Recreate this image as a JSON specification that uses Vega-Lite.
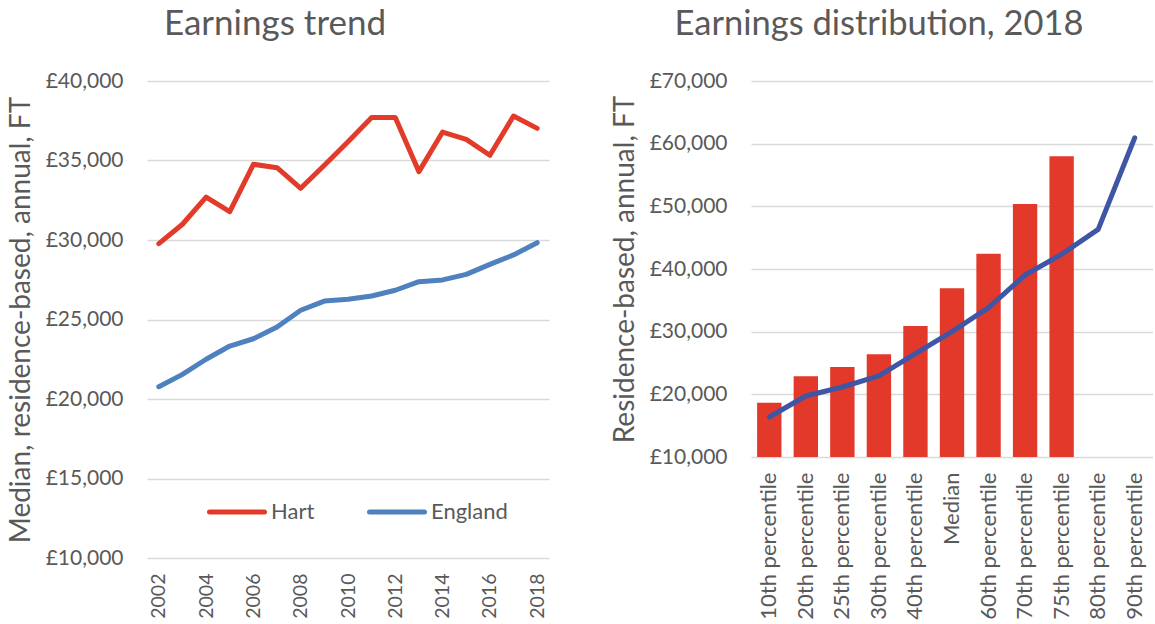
{
  "$schema": "https://vega.github.io/schema/vega-lite/v6.json",
  "padding": {"left": 7, "top": 6, "right": 0, "bottom": 0},
  "background": "white",
  "spacing": 62,
  "datasets": {
    "trend": [
      {"year": 2002, "series": "Hart", "value": 29770},
      {"year": 2003, "series": "Hart", "value": 30990},
      {"year": 2004, "series": "Hart", "value": 32700},
      {"year": 2005, "series": "Hart", "value": 31780},
      {"year": 2006, "series": "Hart", "value": 34760},
      {"year": 2007, "series": "Hart", "value": 34550},
      {"year": 2008, "series": "Hart", "value": 33250},
      {"year": 2009, "series": "Hart", "value": 34700},
      {"year": 2010, "series": "Hart", "value": 36180},
      {"year": 2011, "series": "Hart", "value": 37700},
      {"year": 2012, "series": "Hart", "value": 37700},
      {"year": 2013, "series": "Hart", "value": 34300},
      {"year": 2014, "series": "Hart", "value": 36790},
      {"year": 2015, "series": "Hart", "value": 36330},
      {"year": 2016, "series": "Hart", "value": 35330},
      {"year": 2017, "series": "Hart", "value": 37800},
      {"year": 2018, "series": "Hart", "value": 37020},
      {"year": 2002, "series": "England", "value": 20770},
      {"year": 2003, "series": "England", "value": 21550},
      {"year": 2004, "series": "England", "value": 22500},
      {"year": 2005, "series": "England", "value": 23330},
      {"year": 2006, "series": "England", "value": 23790},
      {"year": 2007, "series": "England", "value": 24530},
      {"year": 2008, "series": "England", "value": 25580},
      {"year": 2009, "series": "England", "value": 26160},
      {"year": 2010, "series": "England", "value": 26270},
      {"year": 2011, "series": "England", "value": 26480},
      {"year": 2012, "series": "England", "value": 26840},
      {"year": 2013, "series": "England", "value": 27380},
      {"year": 2014, "series": "England", "value": 27490},
      {"year": 2015, "series": "England", "value": 27840},
      {"year": 2016, "series": "England", "value": 28470},
      {"year": 2017, "series": "England", "value": 29060},
      {"year": 2018, "series": "England", "value": 29830}
    ],
    "dist": [
      {"percentile": "10th percentile", "Hart": 18660, "England": 16380},
      {"percentile": "20th percentile", "Hart": 22880, "England": 19730},
      {"percentile": "25th percentile", "Hart": 24360, "England": 21170},
      {"percentile": "30th percentile", "Hart": 26390, "England": 22930},
      {"percentile": "40th percentile", "Hart": 30900, "England": 26490},
      {"percentile": "Median", "Hart": 36920, "England": 30000},
      {"percentile": "60th percentile", "Hart": 42440, "England": 33830},
      {"percentile": "70th percentile", "Hart": 50370, "England": 39040},
      {"percentile": "75th percentile", "Hart": 57980, "England": 42340},
      {"percentile": "80th percentile", "Hart": null, "England": 46330},
      {"percentile": "90th percentile", "Hart": null, "England": 60950}
    ]
  },
  "hconcat": [
    {
      "width": 402,
      "height": 477,
      "title": {"text": "Earnings trend", "dx": -73, "fontSize": 35},
      "data": {"name": "trend"},
      "mark": {"type": "line", "strokeWidth": 5, "strokeCap": "round", "strokeJoin": "round"},
      "encoding": {
        "x": {
          "field": "year", "type": "ordinal",
          "scale": {"type": "point", "padding": 0.5},
          "axis": {"values": [2002, 2004, 2006, 2008, 2010, 2012, 2014, 2016, 2018], "labelAngle": -90, "title": null, "labelFontSize": 19.5}
        },
        "y": {
          "field": "value", "type": "quantitative",
          "scale": {"domain": [10000, 40000]},
          "axis": {"values": [10000, 15000, 20000, 25000, 30000, 35000, 40000], "title": "Median, residence-based, annual, FT", "labelExpr": "'£' + format(datum.value, ',')"}
        },
        "color": {
          "field": "series", "type": "nominal",
          "scale": {"domain": ["Hart", "England"], "range": ["#E33B2A", "#4E81BD"]},
          "legend": {
            "orient": "none", "legendX": 60, "legendY": 401, "direction": "horizontal", "title": null,
            "symbolType": "stroke", "symbolSize": 3025, "symbolStrokeWidth": 5,
            "labelFontSize": 22, "labelColor": "#595959", "labelFont": "Lato", "labelOffset": 4, "columnPadding": 44,
            "encode": {"symbols": {"update": {"strokeCap": {"value": "round"}}}}
          }
        }
      }
    },
    {
      "width": 402,
      "height": 376,
      "title": {"text": "Earnings distribution, 2018", "dx": -73, "fontSize": 34.5},
      "data": {"name": "dist"},
      "encoding": {
        "x": {
          "field": "percentile", "type": "nominal", "sort": null,
          "scale": {"paddingInner": 0.333, "paddingOuter": 0.1667},
          "axis": {"labelAngle": -90, "title": null}
        }
      },
      "layer": [
        {
          "mark": {"type": "bar", "color": "#E3392A", "clip": true},
          "encoding": {
            "y": {
              "field": "Hart", "type": "quantitative",
              "scale": {"domain": [10000, 70000]},
              "axis": {"values": [10000, 20000, 30000, 40000, 50000, 60000, 70000], "title": "Residence-based, annual, FT", "labelExpr": "'£' + format(datum.value, ',')"}
            }
          }
        },
        {
          "mark": {"type": "line", "color": "#3F55A5", "strokeWidth": 5, "strokeCap": "round", "strokeJoin": "round"},
          "encoding": {
            "y": {
              "field": "England", "type": "quantitative",
              "axis": {"values": [10000, 20000, 30000, 40000, 50000, 60000, 70000], "title": "Residence-based, annual, FT", "labelExpr": "'£' + format(datum.value, ',')"}
            }
          }
        }
      ]
    }
  ],
  "config": {
    "font": "Lato",
    "view": {"stroke": null},
    "title": {"font": "Lato", "fontWeight": "normal", "color": "#595959", "offset": 28},
    "axis": {
      "labelFont": "Lato", "labelFontSize": 21, "labelColor": "#595959",
      "titleFont": "Lato", "titleFontSize": 28, "titleFontWeight": "normal", "titleColor": "#595959",
      "domain": false, "ticks": false, "gridColor": "#D9D9D9", "gridWidth": 1.5
    },
    "axisX": {"grid": false, "labelPadding": 15, "labelFontSize": 22},
    "axisY": {"labelPadding": 24, "titlePadding": 10}
  }
}
